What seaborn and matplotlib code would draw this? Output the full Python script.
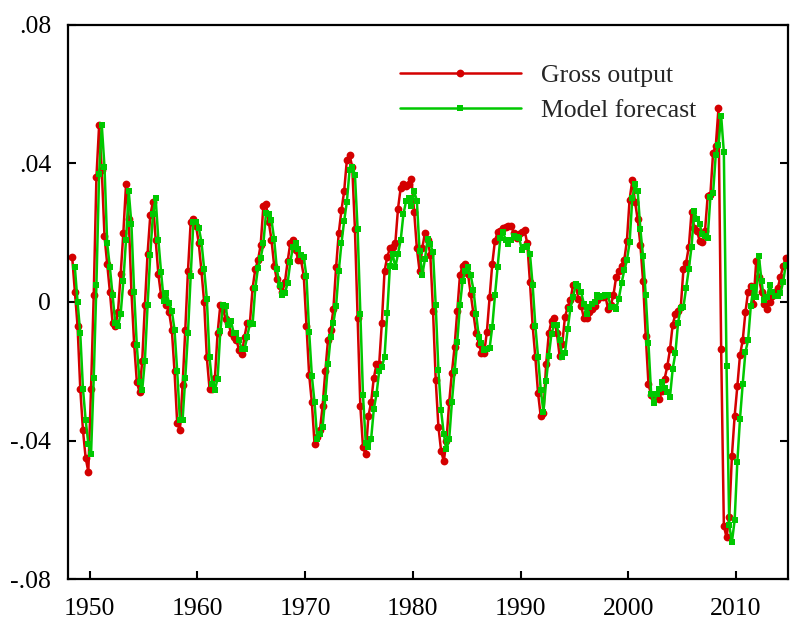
import matplotlib
matplotlib.use("Agg")
import matplotlib.pyplot as plt
import pandas as pd
import seaborn as sns

# quarterly deviations, first observation 1948Q2
gross_output = [
    0.013, 0.003, -0.007, -0.025, -0.037, -0.045, -0.049, -0.025, 0.002, 0.036,
    0.051, 0.038, 0.019, 0.011, 0.003, -0.006, -0.007, -0.003, 0.008, 0.020,
    0.034, 0.024, 0.003, -0.012, -0.023, -0.026, -0.017, -0.001, 0.014, 0.025,
    0.029, 0.018, 0.008, 0.002, 0.002, -0.001, -0.003, -0.008, -0.020, -0.035,
    -0.037, -0.024, -0.008, 0.009, 0.023, 0.024, 0.022, 0.017, 0.009, 0.000,
    -0.016, -0.025, -0.025, -0.022, -0.009, -0.001, -0.002, -0.005, -0.006, -0.009,
    -0.010, -0.011, -0.014, -0.015, -0.010, -0.006, -0.006, 0.004, 0.0095, 0.012,
    0.0165, 0.0277, 0.0282, 0.023, 0.018, 0.0105, 0.0065, 0.0045, 0.003, 0.0057,
    0.0117, 0.017, 0.018, 0.015, 0.012, 0.012, 0.0075, -0.007, -0.021, -0.029,
    -0.041, -0.039, -0.037, -0.030, -0.020, -0.011, -0.008, -0.002, 0.010, 0.020,
    0.0265, 0.032, 0.041, 0.0425, 0.039, 0.021, -0.0045, -0.030, -0.042, -0.044,
    -0.033, -0.029, -0.022, -0.018, -0.018, -0.006, 0.009, 0.013, 0.0155, 0.016,
    0.017, 0.027, 0.033, 0.034, 0.0336, 0.034, 0.0355, 0.026, 0.0155, 0.009,
    0.0155, 0.020, 0.018, 0.0135, -0.0025, -0.0225, -0.036, -0.043, -0.046, -0.040,
    -0.029, -0.0205, -0.013, -0.0025, 0.0077, 0.0105, 0.011, 0.008, 0.0024, -0.0033,
    -0.009, -0.012, -0.0148, -0.0148, -0.0086, 0.0014, 0.011, 0.0177, 0.0201, 0.0206,
    0.0213, 0.0217, 0.022, 0.022, 0.020, 0.0185, 0.0197, 0.0202, 0.0207, 0.0169,
    0.0057, -0.0069, -0.016, -0.0263, -0.033, -0.032, -0.018, -0.009, -0.0055, -0.0046,
    -0.009, -0.0155, -0.012, -0.0043, -0.0015, 0.0005, 0.0049, 0.0048, 0.001, -0.0011,
    -0.0046, -0.0046, -0.0028, -0.002, -0.0011, 0.0006, 0.0014, 0.0015, 0.0017, -0.002,
    -0.001, 0.002, 0.0072, 0.009, 0.0105, 0.012, 0.0177, 0.0296, 0.0351, 0.029,
    0.0239, 0.0165, 0.006, -0.0098, -0.0236, -0.027, -0.0276, -0.0266, -0.028, -0.0257,
    -0.0222, -0.0186, -0.0137, -0.0065, -0.0036, -0.0025, -0.0015, 0.0095, 0.0114, 0.016,
    0.026, 0.0215, 0.0206, 0.0177, 0.0173, 0.0205, 0.0306, 0.031, 0.0431, 0.045,
    0.0559, -0.0136, -0.0646, -0.068, -0.062, -0.0444, -0.033, -0.0244, -0.0153, -0.0111,
    -0.003, 0.003, 0.0045, -0.0005, 0.0117, 0.0072, 0.0028, -0.0005, -0.002, 0.000,
    0.0017, 0.0029, 0.004, 0.0072, 0.0103, 0.0128,
]

# one-step forecast, first observation 1948Q3
model_forecast = [
    0.010, 0.000, -0.009, -0.025, -0.034, -0.041, -0.044, -0.022, 0.005, 0.037,
    0.051, 0.039, 0.017, 0.010, 0.002, -0.006, -0.007, -0.0035, 0.006, 0.018,
    0.032, 0.0225, 0.003, -0.0125, -0.023, -0.0255, -0.017, -0.001, 0.0137, 0.0254,
    0.030, 0.018, 0.0087, 0.0004, 0.0027, -0.0003, -0.0025, -0.008, -0.020, -0.034,
    -0.034, -0.022, -0.009, 0.0074, 0.023, 0.023, 0.0215, 0.0174, 0.0096, 0.001,
    -0.016, -0.0237, -0.0253, -0.0222, -0.0085, -0.001, -0.0011, -0.0067, -0.0056, -0.009,
    -0.009, -0.0111, -0.0137, -0.0136, -0.010, -0.0062, -0.0064, 0.004, 0.0099, 0.0126,
    0.0169, 0.0258, 0.0253, 0.0237, 0.0182, 0.0096, 0.005, 0.0019, 0.0025, 0.0055,
    0.0115, 0.016, 0.017, 0.0153, 0.0135, 0.0129, 0.0074, -0.0086, -0.0213, -0.029,
    -0.0397, -0.038, -0.036, -0.0277, -0.018, -0.010, -0.006, -0.0012, 0.009, 0.017,
    0.0234, 0.0289, 0.038, 0.039, 0.0368, 0.021, -0.0035, -0.027, -0.0406, -0.042,
    -0.0397, -0.031, -0.0267, -0.020, -0.0188, -0.0158, -0.0033, 0.0105, 0.0139, 0.010,
    0.0139, 0.0179, 0.0253, 0.0292, 0.030, 0.0277, 0.032, 0.0292, 0.0148, 0.0077,
    0.0124, 0.0182, 0.0167, 0.0143, -0.001, -0.0196, -0.0313, -0.0382, -0.0425, -0.0397,
    -0.029, -0.020, -0.0115, -0.001, 0.0062, 0.009, 0.0102, 0.0077, 0.0036, -0.0035,
    -0.010, -0.0119, -0.0138, -0.0136, -0.0134, -0.0072, 0.0019, 0.0102, 0.0185, 0.0201,
    0.018, 0.0167, 0.018, 0.0191, 0.0188, 0.0185, 0.015, 0.016, 0.0163, 0.0139,
    0.0048, -0.0069, -0.0158, -0.0253, -0.0317, -0.0229, -0.0155, -0.0091, -0.0067, -0.0067,
    -0.011, -0.016, -0.0146, -0.0079, -0.0019, 0.0013, 0.0051, 0.0045, 0.0029, -0.0005,
    -0.0035, -0.0014, -0.0005, 0.000, 0.0019, 0.0015, 0.0017, 0.0019, 0.0019, -0.0014,
    -0.0014, -0.0019, 0.001, 0.0054, 0.0091, 0.012, 0.0172, 0.0299, 0.0341, 0.032,
    0.021, 0.0132, 0.0019, -0.0119, -0.0265, -0.0293, -0.0267, -0.0251, -0.0232, -0.0248,
    -0.026, -0.0274, -0.0194, -0.0148, -0.006, -0.0016, -0.0014, 0.004, 0.0096, 0.016,
    0.0263, 0.024, 0.0225, 0.0196, 0.019, 0.0186, 0.0303, 0.0314, 0.0425, 0.0454,
    0.0538, 0.0432, -0.0184, -0.0645, -0.0693, -0.0631, -0.0463, -0.0337, -0.0237, -0.0145,
    -0.011, -0.0012, 0.0043, 0.0014, 0.0134, 0.006, 0.0005, 0.0015, 0.0048, 0.003,
    0.0016, 0.0016, 0.0026, 0.0057, 0.0108,
]

series_names = ["Gross output", "Model forecast"]
xtick_years = [1950, 1960, 1970, 1980, 1990, 2000, 2010]
ytick_values = [-0.08, -0.04, 0.0, 0.04, 0.08]
ytick_labels = ["-.08", "-.04", "0", ".04", ".08"]

quarters = pd.period_range("1948Q2", periods=len(gross_output), freq="Q")
dates = quarters.year + (quarters.quarter - 0.5) / 4

gross_df = pd.DataFrame({"date": dates, "value": gross_output})
forecast_df = pd.DataFrame({"date": dates[1:], "value": model_forecast})

sns.set_style("ticks")
plt.rcParams["font.family"] = ["Liberation Serif", "DejaVu Serif"]

red = "#d40000"
green = "#00c800"

fig = plt.figure(figsize=(7.91, 6.23), dpi=100)
ax = fig.add_axes([0.0856, 0.0706, 0.9106, 0.8893])

sns.lineplot(data=gross_df, x="date", y="value", estimator=None, ax=ax,
             color=red, lw=1.8, marker="o", markersize=5.6,
             markeredgecolor=red, markeredgewidth=0, label=series_names[0])
sns.lineplot(data=forecast_df, x="date", y="value", estimator=None, ax=ax,
             color=green, lw=1.8, marker="s", markersize=4.5,
             markeredgecolor=green, markeredgewidth=0, label=series_names[1])

ax.set_xlim(1947.96, 2014.83)
ax.set_ylim(-0.08, 0.08)
ax.set_xticks(xtick_years)
ax.set_xticklabels([str(y) for y in xtick_years])
ax.set_yticks(ytick_values)
ax.set_yticklabels(ytick_labels)
ax.set_xlabel("")
ax.set_ylabel("")

for side in ["left", "right", "top", "bottom"]:
    ax.spines[side].set_visible(True)
    ax.spines[side].set_linewidth(1.6)
    ax.spines[side].set_color("black")

ax.tick_params(axis="both", direction="in", length=6, width=1.5,
               labelsize=18.5, colors="black")
ax.tick_params(axis="y", left=True, right=True, pad=12)
ax.tick_params(axis="x", bottom=True, top=False, pad=14)

ax.legend(loc="upper left", bbox_to_anchor=(0.461, 0.93), frameon=False,
          fontsize=18.5, handlelength=4.7, handletextpad=0.8,
          labelspacing=0.48, borderpad=0, borderaxespad=0)

fig.savefig("out.png", dpi=100)
